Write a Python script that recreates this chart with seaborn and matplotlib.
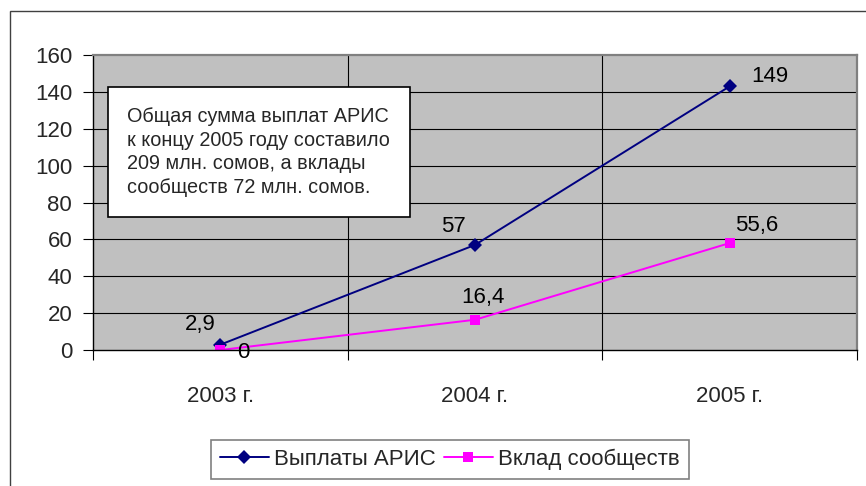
import matplotlib
matplotlib.use("Agg")
import matplotlib.pyplot as plt
from matplotlib import font_manager
from matplotlib.patches import Rectangle
import pandas as pd
import seaborn as sns

# data
years = ["2003 г.", "2004 г.", "2005 г."]
aris_values = [2.9, 57, 143]
aris_labels = ["2,9", "57", "149"]
community_values = [0, 16.4, 58]
community_labels = ["0", "16,4", "55,6"]
series_names = ["Выплаты АРИС", "Вклад сообществ"]
y_ticks = [0, 20, 40, 60, 80, 100, 120, 140, 160]
note_text = ("Общая сумма выплат АРИС\n"
             "к концу 2005 году составило\n"
             "209 млн. сомов, а вклады\n"
             "сообществ 72 млн. сомов.")

df = pd.DataFrame({
    "year": years * 2,
    "value": aris_values + community_values,
    "series": [series_names[0]] * 3 + [series_names[1]] * 3,
})

sns.set_style("white")
names = {f.name for f in font_manager.fontManager.ttflist}
family = "Liberation Sans Narrow" if "Liberation Sans Narrow" in names else "Liberation Sans"
plt.rcParams["font.family"] = [family, "DejaVu Sans"]
big = 20 if family == "Liberation Sans Narrow" else 16
small = 17.5 if family == "Liberation Sans Narrow" else 14.3

fig = plt.figure(figsize=(8.66, 4.86), dpi=100)
ax = fig.add_axes([93 / 866, 1 - 350 / 486, 764 / 866, 295 / 486])
ax.set_facecolor("#C0C0C0")

colors = {series_names[0]: "#000080", series_names[1]: "#FF00FF"}
sns.lineplot(data=df, x="year", y="value", hue="series", style="series",
             palette=colors, markers={series_names[0]: "D", series_names[1]: "s"},
             dashes=False, linewidth=1.4, markersize=7, markeredgewidth=0,
             ax=ax, legend=True)
handles, labels = ax.get_legend_handles_labels()
ax.get_legend().remove()

ax.set_xlim(-0.5, 2.5)
ax.set_ylim(0, 160)
ax.set_yticks(y_ticks)
ax.set_xticks(range(3))
ax.set_xticks([-0.5, 0.5, 1.5, 2.5], minor=True)
ax.set_xlabel("")
ax.set_ylabel("")
ax.tick_params(axis="y", labelsize=big, length=7, width=0.8, color="black",
               pad=8, left=True, direction="out")
ax.tick_params(axis="x", which="major", labelsize=big, length=0, pad=26)
ax.tick_params(axis="x", which="minor", length=7, width=0.8, color="black",
               bottom=True, direction="out")
ax.grid(False)
for y in y_ticks[1:-1]:
    ax.axhline(y, color="black", linewidth=0.8, zorder=0.5)
for x in [0.5, 1.5]:
    ax.axvline(x, color="black", linewidth=0.8, zorder=0.5)
for side in ["left", "bottom"]:
    ax.spines[side].set_color("black")
    ax.spines[side].set_linewidth(1.0)
for side in ["top", "right"]:
    ax.spines[side].set_color("#808080")
    ax.spines[side].set_linewidth(1.6)

# data labels
aris_offsets = [(-20, 20), (-22, 18), (40, 10)]
community_offsets = [(23, -2), (8, 22), (27, 18)]
for i in range(3):
    ax.annotate(aris_labels[i], (i, aris_values[i]), xytext=aris_offsets[i],
                textcoords="offset pixels", ha="center", va="center",
                fontsize=big, color="black")
    ax.annotate(community_labels[i], (i, community_values[i]),
                xytext=community_offsets[i], textcoords="offset pixels",
                ha="center", va="center", fontsize=big, color="black")

# note box
x0, x1 = (108 - 93) / 764, (410 - 93) / 764
y0, y1 = (350 - 217) / 295, (350 - 87) / 295
ax.add_patch(Rectangle((x0, y0), x1 - x0, y1 - y0, transform=ax.transAxes,
                       facecolor="white", edgecolor="black", linewidth=1.2,
                       zorder=5))
ax.text((127 - 93) / 764, (y0 + y1) / 2, note_text, transform=ax.transAxes,
        ha="left", va="center", fontsize=small, linespacing=1.29, zorder=6)

# legend
leg = fig.legend(handles, labels, loc="upper left",
                 bbox_to_anchor=(211 / 866, 1 - 440 / 486), ncol=2,
                 fontsize=big, frameon=True, fancybox=False, shadow=False,
                 edgecolor="#808080", framealpha=1, handlelength=2.2,
                 handletextpad=0.25, columnspacing=0.35, borderpad=0.4,
                 borderaxespad=0)
leg.get_frame().set_linewidth(1.2)

# outer chart border
fig.patches.append(Rectangle((10 / 866, -0.1), 1.0, 1 - 11 / 486 + 0.1,
                             transform=fig.transFigure, facecolor="none",
                             edgecolor="#404040", linewidth=1.0, zorder=-1))

fig.savefig("out.png", dpi=100)
